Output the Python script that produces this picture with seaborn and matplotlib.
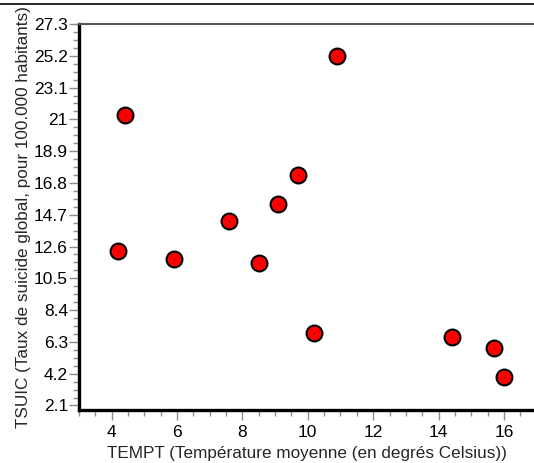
import matplotlib
matplotlib.use("Agg")
import matplotlib.pyplot as plt
from matplotlib.lines import Line2D
from matplotlib.ticker import MultipleLocator, FixedLocator
import numpy as np
import pandas as pd
import seaborn as sns

# Temperature vs suicide rate
tempt = [4.2, 4.4, 5.9, 7.6, 8.5, 9.1, 9.7, 10.2, 10.9, 14.4, 15.7, 16.0]
tsuic = [12.3, 21.3, 11.8, 14.3, 11.5, 15.4, 17.3, 6.9, 25.2, 6.6, 5.9, 4.0]

y_ticks = [2.1, 4.2, 6.3, 8.4, 10.5, 12.6, 14.7, 16.8, 18.9, 21, 23.1, 25.2, 27.3]
y_labels = ["2.1", "4.2", "6.3", "8.4", "10.5", "12.6", "14.7", "16.8", "18.9", "21", "23.1", "25.2", "27.3"]
x_ticks = [4, 6, 8, 10, 12, 14, 16]

df = pd.DataFrame({"TEMPT": tempt, "TSUIC": tsuic})

sns.set_style("white")
plt.rcParams["font.family"] = ["Liberation Sans", "DejaVu Sans"]

fig = plt.figure(figsize=(5.34, 4.63), dpi=100)
ax = fig.add_axes([79 / 534, 1 - 410 / 463, 1 - 79 / 534, (410 - 24) / 463])

sns.scatterplot(data=df, x="TEMPT", y="TSUIC", ax=ax, s=130, color="#ff0000",
                edgecolor="black", linewidth=1.5, zorder=3)
# little centre dot on each marker
ax.scatter(df["TEMPT"], df["TSUIC"], s=0.3, color="black", zorder=4, linewidths=0)

ax.set_xlim(3.0, 16.92)
ax.set_ylim(1.8, 27.3)

ax.yaxis.set_major_locator(FixedLocator(y_ticks))
ax.set_yticklabels(y_labels)
ax.yaxis.set_minor_locator(MultipleLocator(0.525))
ax.xaxis.set_major_locator(FixedLocator(x_ticks))
ax.xaxis.set_minor_locator(MultipleLocator(0.5))

ax.tick_params(axis="both", which="both", bottom=True, left=True, top=False, right=False)
ax.tick_params(axis="both", which="major", direction="out", length=7, width=1,
               color="#8c8c8c", labelsize=12.5, pad=1, labelcolor="black")
ax.tick_params(axis="both", which="minor", direction="out", length=4, width=1,
               color="#8c8c8c")
ax.tick_params(axis="x", which="major", pad=4)

for side in ["left", "bottom"]:
    ax.spines[side].set_linewidth(2.4)
    ax.spines[side].set_color("black")
ax.spines["top"].set_linewidth(1.5)
ax.spines["top"].set_color("#555555")
ax.spines["right"].set_visible(False)

ax.set_xlabel("TEMPT (Température moyenne (en degrés Celsius))", fontsize=12.3, labelpad=4)
ax.set_ylabel("TSUIC (Taux de suicide global, pour 100.000 habitants)", fontsize=12.3, labelpad=2)

# thin rule at the top of the figure
fig.add_artist(Line2D([0, 1], [1 - 4 / 463, 1 - 4 / 463], color="black", linewidth=1.2,
                      transform=fig.transFigure))

fig.savefig("out.png", dpi=100)
